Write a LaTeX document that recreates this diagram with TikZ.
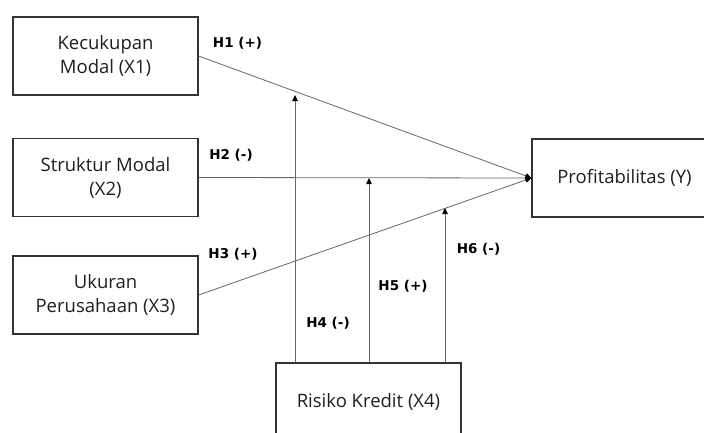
\documentclass[tikz,border=0pt]{standalone}
\usepackage{fontspec}
\setmainfont{Open Sans}
\newfontfamily\labfont{DejaVu Sans}
\usetikzlibrary{arrows.meta}
\begin{document}
\begin{tikzpicture}[x=1pt,y=-1pt,
  box/.style={draw=black!80, line width=1.1pt, minimum width=185pt, minimum height=78pt, inner sep=0pt,
    align=center, font=\fontsize{18.5}{24}\selectfont, text=black!88},
  conn/.style={draw=black!60, line width=0.8pt},
  tipped/.style={conn, -{Triangle[length=6pt,width=5.5pt,color=black]}},
  hlab/.style={font=\labfont\bfseries\fontsize{13.5}{16}\selectfont, text=black, inner sep=0pt}]
\useasboundingbox (0,0) rectangle (704,432);
\clip (0,0) rectangle (704,432);
\node[box] (x1) at (105.5,56) {Kecukupan\\Modal (X1)};
\node[box] (x2) at (105.5,177.5) {Struktur Modal\\(X2)};
\node[box] (x3) at (105.5,295) {Ukuran\\Perusahaan (X3)};
\node[box] (y) at (624.5,178) {Profitabilitas (Y)};
\node[box] (x4) at (368.5,402) {Risiko Kredit (X4)};
\draw[tipped] (x1.east) -- (y.west);
\draw[tipped] (x2.east) -- (y.west);
\draw[tipped] (x3.east) -- (y.west);
\coordinate (m1) at (295,95);
\coordinate (m2) at (369,178);
\coordinate (m3) at (445,208);
\draw[tipped] (x4.north -| m1) -- (m1);
\draw[tipped] (x4.north -| m2) -- (m2);
\draw[tipped] (x4.north -| m3) -- (m3);
\node[hlab] (h1) at (237.5,43) {H1 (+)};
\node[hlab] (h2) at (231,155) {H2 (-)};
\node[hlab] (h3) at (233,254) {H3 (+)};
\node[hlab] (h4) at (328,323) {H4 (-)};
\node[hlab] (h5) at (403,286) {H5 (+)};
\node[hlab] (h6) at (478.5,249) {H6 (-)};
\end{tikzpicture}
\end{document}
